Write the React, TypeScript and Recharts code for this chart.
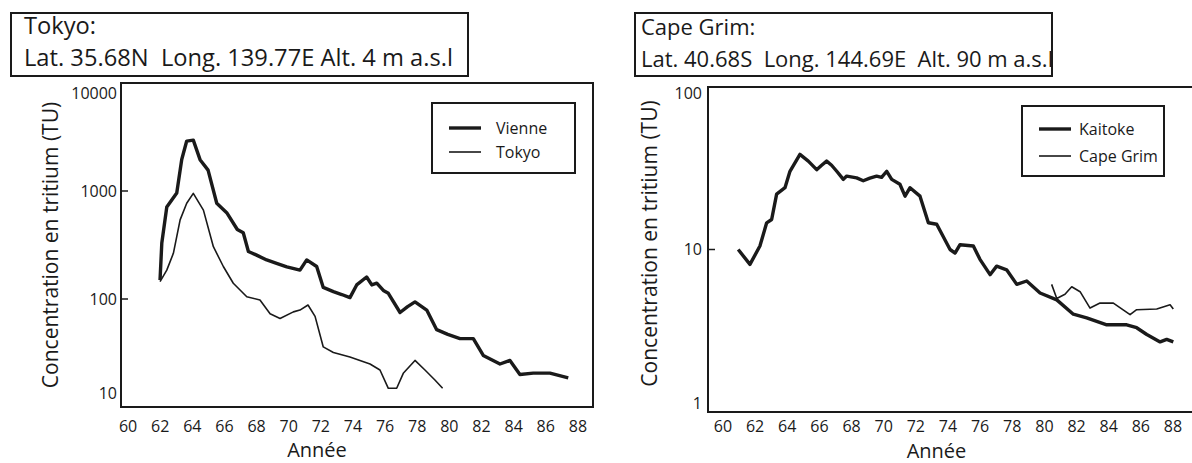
import { LineChart, Line, XAxis, YAxis, Legend, ReferenceArea } from 'recharts';

// Tokyo panel
const viennaYears = [61.99, 62.1, 62.41, 63.03, 63.34, 63.65, 64.06, 64.48, 64.98, 65.52, 66.14, 66.8, 67.17, 67.49, 68.0, 68.63, 69.2, 69.88, 70.7, 71.12, 71.74, 72.15, 72.78, 73.3, 73.81, 74.23, 74.85, 75.17, 75.48, 75.89, 76.2, 76.93, 77.4, 77.86, 78.59, 79.21, 79.9, 80.66, 81.49, 82.11, 83.15, 83.77, 84.39, 85.22, 86.26, 87.4];
const viennaValues = [150, 330, 710, 960, 1960, 2900, 2960, 1950, 1560, 770, 630, 440, 410, 275, 255, 230, 215, 198, 185, 230, 200, 128, 117, 110, 103, 135, 160, 135, 140, 120, 113, 75, 85, 94, 79, 52, 47, 43, 43, 30, 25, 27, 20, 20.6, 20.6, 18.6];
const tokyoYears = [61.99, 62.41, 62.82, 63.24, 63.65, 64.06, 64.69, 65.31, 65.93, 66.55, 67.39, 68.21, 68.84, 69.46, 70.29, 70.7, 71.2, 71.64, 72.15, 72.78, 73.81, 75.06, 75.68, 76.2, 76.72, 77.13, 77.86, 78.48, 79.1, 79.58];
const tokyoValues = [145, 185, 265, 540, 770, 950, 665, 305, 200, 140, 105, 98, 73, 66, 76, 79, 88, 69, 36, 32, 29, 25, 22, 14.9, 14.9, 20.5, 27, 22, 17.8, 14.9];

// Cape Grim panel
const kaitokeYears = [60.95, 61.68, 62.3, 62.72, 63.03, 63.34, 63.86, 64.17, 64.79, 65.31, 65.83, 66.14, 66.45, 66.76, 67.08, 67.49, 67.7, 68.32, 68.73, 69.14, 69.56, 69.87, 70.19, 70.5, 71.01, 71.33, 71.64, 72.26, 72.78, 73.3, 74.13, 74.44, 74.75, 75.58, 75.99, 76.62, 77.03, 77.65, 78.28, 78.9, 79.73, 80.77, 81.8, 82.63, 83.88, 85.12, 85.74, 86.37, 87.2, 87.61, 88.02];
const kaitokeValues = [10, 8.1, 10.5, 14.6, 15.3, 21.9, 24, 30.3, 38.5, 35, 31, 33, 35, 33, 30.3, 27, 28.3, 27.6, 26.5, 27.5, 28.3, 27.8, 30.3, 27, 25.2, 21.3, 24, 21.3, 14.6, 14.3, 10, 9.5, 10.7, 10.5, 8.7, 7.0, 7.9, 7.5, 6.1, 6.4, 5.4, 4.9, 4.0, 3.8, 3.44, 3.44, 3.3, 3.0, 2.7, 2.8, 2.7];
const capeGrimYears = [80.45, 80.77, 81.28, 81.7, 82.22, 82.84, 83.46, 84.29, 85.33, 85.74, 86.99, 87.82, 88.02];
const capeGrimValues = [6.1, 5.0, 5.3, 5.9, 5.5, 4.36, 4.68, 4.68, 3.97, 4.26, 4.3, 4.57, 4.3];

const yearTicks = [60, 62, 64, 66, 68, 70, 72, 74, 76, 78, 80, 82, 84, 86, 88];
const tokyoTicks = [10, 100, 1000, 10000];
const capeTicks = [1, 10, 100];

const tokyoLegend = ['Vienne', 'Tokyo'];
const capeLegend = ['Kaitoke', 'Cape Grim'];

const zip = (years: number[], values: number[]) => years.map((year, i) => ({ year, value: values[i] }));

const viennaData = zip(viennaYears, viennaValues);
const tokyoData = zip(tokyoYears, tokyoValues);
const kaitokeData = zip(kaitokeYears, kaitokeValues);
const capeGrimData = zip(capeGrimYears, capeGrimValues);

const INK = '#1a1a1a';
const FONT = '"Open Sans", sans-serif';

function makeYTick(margin: number, shifts: Record<number, number>) {
  return (props: any) => {
    const { x, y, payload } = props;
    const shift = shifts[payload.value];
    const inner = shift === undefined;
    return (
      <g>
        {inner && <line x1={x + margin} x2={x + margin + 7} y1={y} y2={y} stroke={INK} strokeWidth={1.5} />}
        <text x={x} y={y + (shift || 0)} dy="0.35em" textAnchor="end" fontSize={16} fill={INK} fontFamily={FONT}>
          {payload.value}
        </text>
      </g>
    );
  };
}

function makeLegend(order: string[], w: number, h: number, rows: number[], gap: number) {
  return (props: any) => {
    const payload = [...(props.payload || [])].sort((a: any, b: any) => order.indexOf(a.value) - order.indexOf(b.value));
    return (
      <div style={{ width: w, height: h, border: `2px solid ${INK}`, boxSizing: 'border-box', position: 'relative', background: '#fff', fontFamily: FONT }}>
        {payload.map((e: any, i: number) => (
          <div key={e.value} style={{ position: 'absolute', left: 16, top: rows[i] - 12, height: 24, display: 'flex', alignItems: 'center' }}>
            <svg width={32} height={8}>
              <line x1={0} x2={32} y1={4} y2={4} stroke={INK} strokeWidth={e.payload?.strokeWidth ?? 2} />
            </svg>
            <span style={{ marginLeft: gap, fontSize: 16, color: INK }}>{e.value}</span>
          </div>
        ))}
      </div>
    );
  };
}

function TitleBox({ left, width, pad, size, lines }: { left: number; width: number; pad: number; size: number; lines: string[] }) {
  const asc = Math.round(size * 1.07);
  return (
    <div style={{ position: 'absolute', left, top: 12, width, height: 65, border: `2px solid ${INK}`, boxSizing: 'border-box', fontFamily: FONT, fontSize: size, lineHeight: 1, color: INK, whiteSpace: 'pre' }}>
      <div style={{ position: 'absolute', left: pad, top: 21 - asc + 4 }}>{lines[0]}</div>
      <div style={{ position: 'absolute', left: pad, top: 53 - asc + 4 }}>{lines[1]}</div>
    </div>
  );
}

export default function App() {
  return (
    <div style={{ position: 'absolute', left: 0, top: 0, width: 1192, height: 463, overflow: 'hidden', background: '#fff', fontFamily: FONT }}>
      <div style={{ position: 'absolute', left: 0, top: 0 }}>
        <LineChart width={600} height={463} margin={{ top: 83, right: 7, bottom: 16, left: 61 }}>
          <XAxis
            dataKey="year"
            type="number"
            domain={[59.56, 88.94]}
            ticks={yearTicks}
            allowDataOverflow
            axisLine={false}
            tickLine={false}
            tickSize={0}
            tickMargin={14}
            height={40}
            tick={{ fontSize: 16, fill: INK, fontFamily: FONT }}
            label={{ value: 'Année', position: 'bottom', offset: -4, dx: -40, fontSize: 20, fill: INK, fontFamily: FONT }}
          />
          <YAxis
            type="number"
            scale="log"
            domain={[10, 10000]}
            ticks={tokyoTicks}
            allowDataOverflow
            axisLine={false}
            tickLine={false}
            tickSize={0}
            tickMargin={4}
            width={60}
            tick={makeYTick(4, { 10: -14, 10000: 10 })}
            label={{ value: 'Concentration en tritium (TU)', angle: -90, position: 'insideLeft', offset: -10, fontSize: 21, fill: INK, fontFamily: FONT, style: { textAnchor: 'middle' } }}
          />
          <ReferenceArea x1={59.56} x2={88.94} y1={10} y2={10000} fill="none" stroke={INK} strokeWidth={2} />
          <Line data={viennaData} dataKey="value" name="Vienne" type="linear" stroke={INK} strokeWidth={3.4} dot={false} strokeLinejoin="round" isAnimationActive={false} />
          <Line data={tokyoData} dataKey="value" name="Tokyo" type="linear" stroke={INK} strokeWidth={1.6} dot={false} strokeLinejoin="round" isAnimationActive={false} />
          <Legend layout="vertical" align="center" verticalAlign="middle" wrapperStyle={{ left: 431, top: 102, width: 145 }} content={makeLegend(tokyoLegend, 145, 72, [24, 48], 15)} />
        </LineChart>
      </div>
      <TitleBox left={10} width={459} pad={12} size={23.7} lines={['Tokyo:', 'Lat. 35.68N  Long. 139.77E Alt. 4 m a.s.l']} />

      <div style={{ position: 'absolute', left: 600, top: 0 }}>
        <LineChart width={600} height={463} margin={{ top: 87, right: 5, bottom: 11, left: 48 }}>
          <XAxis
            dataKey="year"
            type="number"
            domain={[59.07, 89.37]}
            ticks={yearTicks}
            allowDataOverflow
            axisLine={false}
            tickLine={false}
            tickSize={0}
            tickMargin={9}
            height={40}
            tick={{ fontSize: 16, fill: INK, fontFamily: FONT }}
            label={{ value: 'Année', position: 'bottom', offset: -8, dx: -15, fontSize: 20, fill: INK, fontFamily: FONT }}
          />
          <YAxis
            type="number"
            scale="log"
            domain={[1, 100]}
            ticks={capeTicks}
            allowDataOverflow
            axisLine={false}
            tickLine={false}
            tickSize={0}
            tickMargin={6}
            width={60}
            tick={makeYTick(6, { 1: -9, 100: 6 })}
            label={{ value: 'Concentration en tritium (TU)', angle: -90, position: 'insideLeft', offset: 2, dy: -6, fontSize: 21, fill: INK, fontFamily: FONT, style: { textAnchor: 'middle' } }}
          />
          <ReferenceArea x1={59.07} x2={89.37} y1={1} y2={100} fill="none" stroke={INK} strokeWidth={2} />
          <Line data={kaitokeData} dataKey="value" name="Kaitoke" type="linear" stroke={INK} strokeWidth={3.4} dot={false} strokeLinejoin="round" isAnimationActive={false} />
          <Line data={capeGrimData} dataKey="value" name="Cape Grim" type="linear" stroke={INK} strokeWidth={1.6} dot={false} strokeLinejoin="round" isAnimationActive={false} />
          <Legend layout="vertical" align="center" verticalAlign="middle" wrapperStyle={{ left: 421, top: 105, width: 144 }} content={makeLegend(capeLegend, 144, 72, [22, 49], 8)} />
        </LineChart>
      </div>
      <TitleBox left={634} width={419} pad={5} size={22} lines={['Cape Grim:', 'Lat. 40.68S  Long. 144.69E  Alt. 90 m a.s.l']} />
    </div>
  );
}
